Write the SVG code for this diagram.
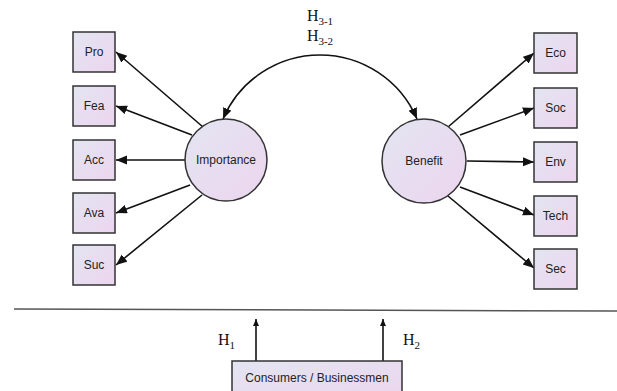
<svg xmlns="http://www.w3.org/2000/svg" width="617" height="391" viewBox="0 0 617 391">
<defs>
<linearGradient id="g" x1="0" y1="0" x2="1" y2="1">
<stop offset="0" stop-color="#e3e5f1"/>
<stop offset="1" stop-color="#ecd5ef"/>
</linearGradient>
<marker id="ah" markerWidth="12" markerHeight="10" refX="11" refY="4.5" orient="auto-start-reverse" markerUnits="userSpaceOnUse">
<path d="M0,0 L11,4.5 L0,9 Z" fill="#111"/>
</marker>
<marker id="ahs" markerWidth="8" markerHeight="8" refX="7" refY="3" orient="auto" markerUnits="userSpaceOnUse">
<path d="M0,0 L7,3 L0,6 Z" fill="#111"/>
</marker>
</defs>
<style>
.box{fill:url(#g);stroke:#333;stroke-width:1.5}
.lbl{font-family:"Liberation Sans",Arial,sans-serif;font-size:12px;fill:#222;text-anchor:middle}
.h{font-family:"Liberation Serif","Times New Roman",serif;font-size:16px;fill:#111}
.c{stroke:#111;stroke-width:1.6;fill:none;marker-end:url(#ah)}
.cs{stroke:#111;stroke-width:1.6;fill:none;marker-end:url(#ahs)}
</style>
<rect width="617" height="391" fill="#fff"/>
<g id="connectors">
<path class="c" d="M223,119 A105.5,105.5 0 0 1 417,119" style="marker-start:url(#ah)"/>
<line class="c" x1="203" y1="127" x2="116" y2="52"/>
<line class="c" x1="192" y1="135" x2="116" y2="106"/>
<line class="c" x1="185" y1="160" x2="116" y2="160"/>
<line class="c" x1="190" y1="185" x2="116" y2="213"/>
<line class="c" x1="202" y1="195" x2="116" y2="265"/>
<line class="c" x1="448" y1="127" x2="534" y2="53"/>
<line class="c" x1="460" y1="135" x2="534" y2="108"/>
<line class="c" x1="467" y1="161" x2="534" y2="162"/>
<line class="c" x1="460" y1="187" x2="534" y2="215"/>
<line class="c" x1="448" y1="196" x2="534" y2="268"/>
<line class="cs" x1="256" y1="361" x2="256" y2="319"/>
<line class="cs" x1="383" y1="361" x2="383" y2="319"/>
<line x1="14" y1="309" x2="617" y2="311" stroke="#555" stroke-width="1.5"/>
</g>
<g id="H3"><text class="h" x="320" y="21" text-anchor="middle">H<tspan font-size="11" dy="4">3-1</tspan></text>
<text class="h" x="320" y="41" text-anchor="middle">H<tspan font-size="11" dy="4">3-2</tspan></text></g>
<g id="H1"><text class="h" x="218" y="345">H<tspan font-size="11" dy="4">1</tspan></text></g>
<g id="H2"><text class="h" x="403" y="345">H<tspan font-size="11" dy="4">2</tspan></text></g>
<g id="importance"><circle class="box" cx="226" cy="160" r="41"/><text class="lbl" x="226" y="164">Importance</text></g>
<g id="benefit"><circle class="box" cx="424" cy="161" r="42"/><text class="lbl" x="424" y="165">Benefit</text></g>
<g id="pro"><rect class="box" x="73" y="32" width="42" height="40"/><text class="lbl" x="94" y="56">Pro</text></g>
<g id="fea"><rect class="box" x="73" y="86" width="42" height="40"/><text class="lbl" x="94" y="110">Fea</text></g>
<g id="acc"><rect class="box" x="73" y="140" width="42" height="40"/><text class="lbl" x="94" y="164">Acc</text></g>
<g id="ava"><rect class="box" x="73" y="193" width="42" height="40"/><text class="lbl" x="94" y="217">Ava</text></g>
<g id="suc"><rect class="box" x="73" y="245" width="42" height="40"/><text class="lbl" x="94" y="269">Suc</text></g>
<g id="eco"><rect class="box" x="534" y="33" width="43" height="40"/><text class="lbl" x="555.5" y="57">Eco</text></g>
<g id="soc"><rect class="box" x="534" y="88" width="43" height="40"/><text class="lbl" x="555.5" y="112">Soc</text></g>
<g id="env"><rect class="box" x="534" y="142" width="43" height="40"/><text class="lbl" x="555.5" y="166">Env</text></g>
<g id="tech"><rect class="box" x="534" y="196" width="43" height="40"/><text class="lbl" x="555.5" y="220">Tech</text></g>
<g id="sec"><rect class="box" x="534" y="249" width="43" height="40"/><text class="lbl" x="555.5" y="273">Sec</text></g>
<g id="consumers"><rect class="box" x="232" y="361" width="170" height="40"/><text class="lbl" x="317" y="382">Consumers / Businessmen</text></g>
</svg>
